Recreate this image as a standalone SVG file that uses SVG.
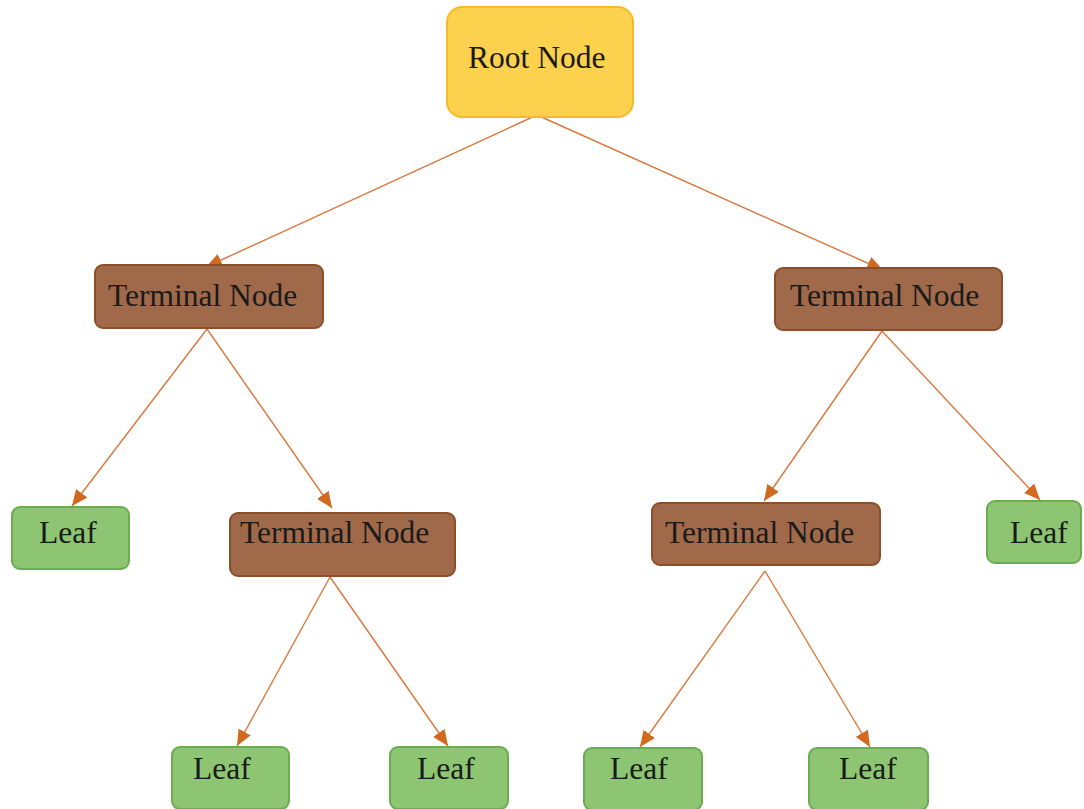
<svg xmlns="http://www.w3.org/2000/svg" width="1084" height="809" viewBox="0 0 1084 809">
<defs>
<marker id="ah" viewBox="0 0 16 14" refX="16" refY="7" markerWidth="16" markerHeight="14" markerUnits="userSpaceOnUse" orient="auto">
<path d="M0,0 L16,7 L0,14 z" fill="#d2691e"/>
</marker>
</defs>
<style>
.root rect{fill:#fcd14d;stroke:#f5bb2a;stroke-width:2}
.term rect{fill:#a0694a;stroke:#8b4f2a;stroke-width:2}
.leaf rect{fill:#8dc572;stroke:#6aac4f;stroke-width:2}
text{font-family:"Liberation Serif","Times New Roman",serif;font-size:31.5px;fill:#1a1a1a}
.conn line{stroke:#d9773c;stroke-width:1.4;marker-end:url(#ah)}
</style>
<rect width="1084" height="809" fill="#ffffff"/>
<g class="conn" id="connectors">
<line x1="537" y1="115" x2="206" y2="267"/>
<line x1="537" y1="115" x2="883" y2="270"/>
<line x1="207" y1="329" x2="72" y2="506"/>
<line x1="207" y1="329" x2="332" y2="508"/>
<line x1="882" y1="331" x2="764" y2="501"/>
<line x1="882" y1="331" x2="1040" y2="500"/>
<line x1="330" y1="577" x2="237" y2="746"/>
<line x1="330" y1="577" x2="448" y2="746"/>
<line x1="765" y1="571" x2="640" y2="747"/>
<line x1="765" y1="571" x2="870" y2="747"/>
</g>
<g id="root" class="root"><rect x="447" y="7" width="186" height="110" rx="15"/><text x="468" y="68">Root Node</text></g>
<g id="term-l1" class="term"><rect x="95" y="265" width="228" height="63" rx="8"/><text x="108" y="306">Terminal Node</text></g>
<g id="term-r1" class="term"><rect x="775" y="268" width="227" height="62" rx="8"/><text x="790" y="306">Terminal Node</text></g>
<g id="term-l2" class="term"><rect x="230" y="513" width="225" height="63" rx="8"/><text x="240" y="543">Terminal Node</text></g>
<g id="term-r2" class="term"><rect x="652" y="503" width="228" height="62" rx="8"/><text x="665" y="543">Terminal Node</text></g>
<g id="leaf-1" class="leaf"><rect x="12" y="507" width="117" height="62" rx="8"/><text x="39" y="543">Leaf</text></g>
<g id="leaf-2" class="leaf"><rect x="987" y="501" width="94" height="62" rx="8"/><text x="1010" y="543">Leaf</text></g>
<g id="leaf-3" class="leaf"><rect x="172" y="747" width="117" height="62" rx="8"/><text x="193" y="779">Leaf</text></g>
<g id="leaf-4" class="leaf"><rect x="390" y="747" width="118" height="62" rx="8"/><text x="417" y="779">Leaf</text></g>
<g id="leaf-5" class="leaf"><rect x="584" y="748" width="118" height="62" rx="8"/><text x="610" y="779">Leaf</text></g>
<g id="leaf-6" class="leaf"><rect x="809" y="748" width="119" height="62" rx="8"/><text x="839" y="779">Leaf</text></g>
</svg>
